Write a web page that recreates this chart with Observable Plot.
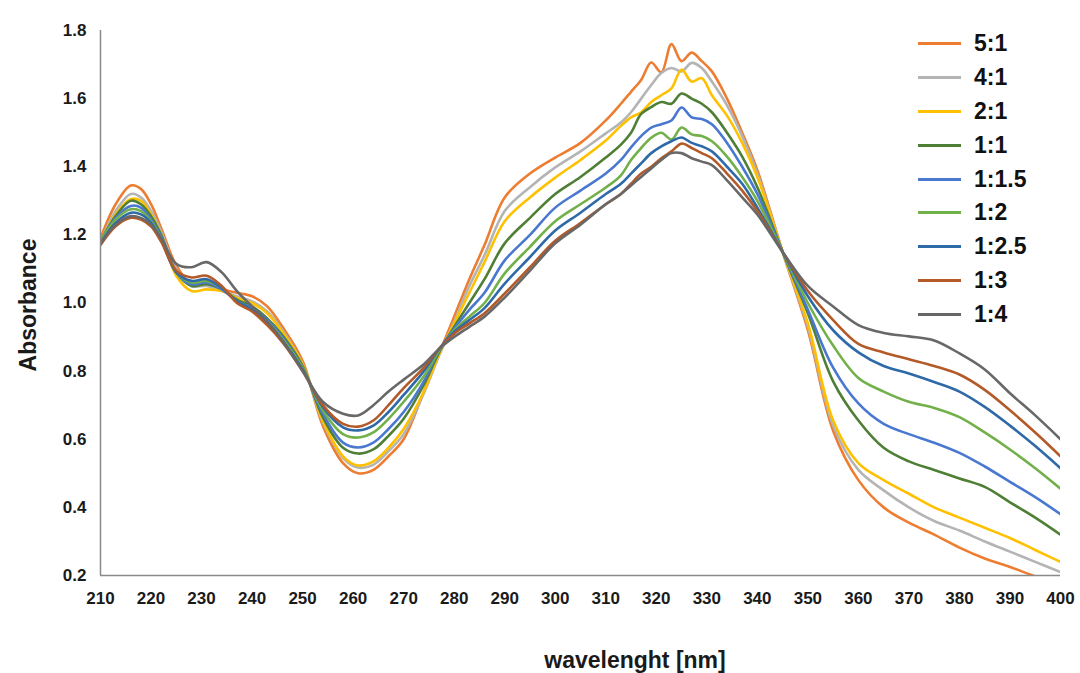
<!DOCTYPE html>
<html>
<head>
<meta charset="utf-8">
<script src="https://cdn.jsdelivr.net/npm/d3@7"></script>
<script src="https://cdn.jsdelivr.net/npm/@observablehq/plot@0.6"></script>
<style>
  body { margin: 0; background: #fff; }
  #wrap { position: relative; width: 1080px; height: 673px; }
  #legend { position: absolute; left: 918px; top: 27px; font-family: "Liberation Sans", Arial, sans-serif; font-weight: bold; font-size: 23px; color: #111; }
  .item { display: flex; align-items: center; height: 33.8px; }
  .sw { width: 43px; height: 3px; margin-right: 13px; }
</style>
</head>
<body>
<div id="wrap"><div id="legend"></div></div>
<script>
const wavelengths = [210,213,216,218,220,222,225,228,231,234,237,240,243,246,250,
  254,258,261,264,267,270,274,277,280,283,286,290,
  295,300,305,310,313,315,317,319,321,323,325,327,329,331,334,337,340,345,
  350,355,360,365,370,375,380,385,390,395,400];

const seriesNames = ["5:1","4:1","2:1","1:1","1:1.5","1:2","1:2.5","1:3","1:4"];
const seriesColors = ["#ED7D31","#B4B4B4","#FFC000","#4F7F35","#4A78D0","#72B04A","#2F6AA8","#B35A28","#686868"];

const s5_1 = [1.19,1.29,1.345,1.335,1.29,1.22,1.11,1.055,1.055,1.04,1.03,1.02,0.99,0.93,0.83,
  0.64,0.53,0.50,0.51,0.55,0.60,0.74,0.85,0.96,1.07,1.17,1.31,
  1.38,1.427,1.47,1.536,1.585,1.62,1.655,1.706,1.677,1.76,1.71,1.735,1.71,1.68,1.60,1.50,1.39,1.15,
  0.92,0.625,0.48,0.40,0.355,0.32,0.282,0.25,0.225,0.198,0.175];
const s4_1 = [1.18,1.27,1.32,1.31,1.27,1.21,1.10,1.05,1.05,1.035,1.02,1.005,0.975,0.92,0.82,
  0.65,0.545,0.517,0.525,0.565,0.615,0.735,0.845,0.945,1.05,1.14,1.27,
  1.34,1.398,1.445,1.498,1.53,1.56,1.60,1.64,1.675,1.69,1.68,1.705,1.69,1.65,1.58,1.49,1.38,1.15,
  0.93,0.64,0.51,0.45,0.40,0.36,0.332,0.30,0.27,0.24,0.21];
const s2_1 = [1.18,1.26,1.305,1.30,1.26,1.20,1.08,1.035,1.04,1.035,1.015,1.0,0.97,0.915,0.82,
  0.655,0.55,0.523,0.535,0.575,0.63,0.74,0.85,0.94,1.03,1.12,1.24,
  1.31,1.368,1.42,1.477,1.52,1.545,1.56,1.59,1.61,1.63,1.685,1.65,1.66,1.61,1.55,1.47,1.37,1.15,
  0.94,0.655,0.53,0.48,0.44,0.40,0.37,0.34,0.31,0.275,0.24];
const s1_1 = [1.18,1.255,1.30,1.29,1.255,1.20,1.09,1.05,1.055,1.04,1.01,0.99,0.955,0.905,0.815,
  0.665,0.575,0.558,0.57,0.61,0.66,0.76,0.855,0.93,1.0,1.07,1.175,
  1.25,1.32,1.37,1.427,1.465,1.50,1.555,1.575,1.59,1.585,1.615,1.60,1.585,1.56,1.50,1.43,1.34,1.15,
  0.97,0.77,0.655,0.575,0.535,0.51,0.485,0.46,0.415,0.37,0.32];
const s1_15 = [1.18,1.25,1.285,1.28,1.245,1.195,1.09,1.055,1.06,1.04,1.005,0.985,0.95,0.90,0.81,
  0.675,0.59,0.576,0.59,0.63,0.68,0.77,0.86,0.925,0.98,1.03,1.125,
  1.20,1.28,1.33,1.38,1.42,1.457,1.49,1.515,1.525,1.536,1.574,1.545,1.54,1.525,1.47,1.40,1.32,1.15,
  0.98,0.81,0.705,0.645,0.615,0.59,0.56,0.52,0.475,0.43,0.38];
const s1_2 = [1.18,1.245,1.275,1.27,1.24,1.19,1.09,1.06,1.065,1.045,1.005,0.98,0.945,0.895,0.81,
  0.685,0.615,0.605,0.62,0.66,0.71,0.785,0.86,0.92,0.96,1.0,1.087,
  1.165,1.24,1.29,1.339,1.375,1.42,1.455,1.485,1.50,1.48,1.515,1.495,1.49,1.475,1.43,1.37,1.30,1.15,
  1.0,0.875,0.78,0.74,0.71,0.692,0.665,0.62,0.57,0.515,0.455];
const s1_25 = [1.175,1.235,1.265,1.26,1.235,1.185,1.09,1.065,1.07,1.045,1.005,0.98,0.94,0.89,0.805,
  0.695,0.635,0.626,0.64,0.68,0.73,0.80,0.865,0.915,0.95,0.985,1.057,
  1.135,1.213,1.265,1.32,1.35,1.38,1.41,1.44,1.46,1.475,1.486,1.47,1.46,1.445,1.40,1.35,1.28,1.15,
  1.02,0.92,0.855,0.815,0.793,0.768,0.74,0.695,0.64,0.58,0.515];
const s1_3 = [1.17,1.225,1.25,1.245,1.225,1.18,1.095,1.075,1.08,1.05,1.0,0.975,0.935,0.885,0.80,
  0.70,0.645,0.637,0.655,0.70,0.75,0.81,0.865,0.91,0.94,0.97,1.028,
  1.105,1.183,1.235,1.29,1.32,1.35,1.38,1.40,1.425,1.445,1.468,1.455,1.44,1.425,1.38,1.33,1.27,1.15,
  1.035,0.95,0.88,0.855,0.835,0.815,0.79,0.745,0.685,0.62,0.55];
const s1_4 = [1.175,1.23,1.255,1.25,1.23,1.19,1.115,1.105,1.12,1.09,1.035,0.99,0.945,0.89,0.80,
  0.71,0.675,0.67,0.70,0.74,0.775,0.82,0.865,0.90,0.93,0.96,1.016,
  1.095,1.175,1.23,1.29,1.32,1.345,1.37,1.395,1.42,1.44,1.44,1.425,1.415,1.405,1.36,1.31,1.26,1.15,
  1.05,0.99,0.935,0.912,0.902,0.89,0.852,0.805,0.735,0.67,0.60];

const xTicks = [210,220,230,240,250,260,270,280,290,300,310,320,330,340,350,360,370,380,390,400];
const yTicks = [0.2,0.4,0.6,0.8,1.0,1.2,1.4,1.6,1.8];
const xTitle = "wavelenght [nm]";
const yTitle = "Absorbance";

const allSeries = [s5_1,s4_1,s2_1,s1_1,s1_15,s1_2,s1_25,s1_3,s1_4];
const rows = [];
allSeries.forEach((vals, i) => {
  vals.forEach((v, j) => rows.push({series: seriesNames[i], wl: wavelengths[j], abs: v}));
});

const chart = Plot.plot({
  width: 1080,
  height: 673,
  marginLeft: 100,
  marginRight: 20,
  marginTop: 30,
  marginBottom: 98,
  style: {fontFamily: "'Liberation Sans', Arial, sans-serif", fontWeight: "bold", fontSize: "17px", color: "#1a1a1a", background: "white"},
  x: {domain: [210, 400], ticks: xTicks, tickSize: 0, tickPadding: 16, label: null},
  y: {domain: [0.2, 1.8], ticks: yTicks, tickSize: 0, tickPadding: 14, tickFormat: d3.format(".1f"), label: null},
  color: {domain: seriesNames, range: seriesColors},
  marks: [
    Plot.lineY(rows, {x: "wl", y: "abs", z: "series", stroke: "series", strokeWidth: 2.6, clip: true, curve: "catmull-rom"}),
    Plot.ruleX([210], {stroke: "#8a8a8a", strokeWidth: 1.5}),
    Plot.ruleY([0.2], {stroke: "#8a8a8a", strokeWidth: 1.5})
  ]
});

const svg = d3.select(chart);
svg.append("text")
  .attr("x", 635).attr("y", 668)
  .attr("text-anchor", "middle")
  .style("font-size", "23px").style("font-weight", "bold").attr("fill", "#1a1a1a")
  .text(xTitle);
svg.append("text")
  .attr("transform", "translate(36,305) rotate(-90)")
  .attr("text-anchor", "middle")
  .style("font-size", "23px").style("font-weight", "bold").attr("fill", "#1a1a1a")
  .text(yTitle);

const wrap = document.getElementById("wrap");
wrap.insertBefore(chart, wrap.firstChild);

const legend = document.getElementById("legend");
seriesNames.forEach((name, i) => {
  const item = document.createElement("div");
  item.className = "item";
  const sw = document.createElement("div");
  sw.className = "sw";
  sw.style.background = seriesColors[i];
  const lbl = document.createElement("span");
  lbl.textContent = name;
  item.appendChild(sw);
  item.appendChild(lbl);
  legend.appendChild(item);
});
</script>
</body>
</html>
